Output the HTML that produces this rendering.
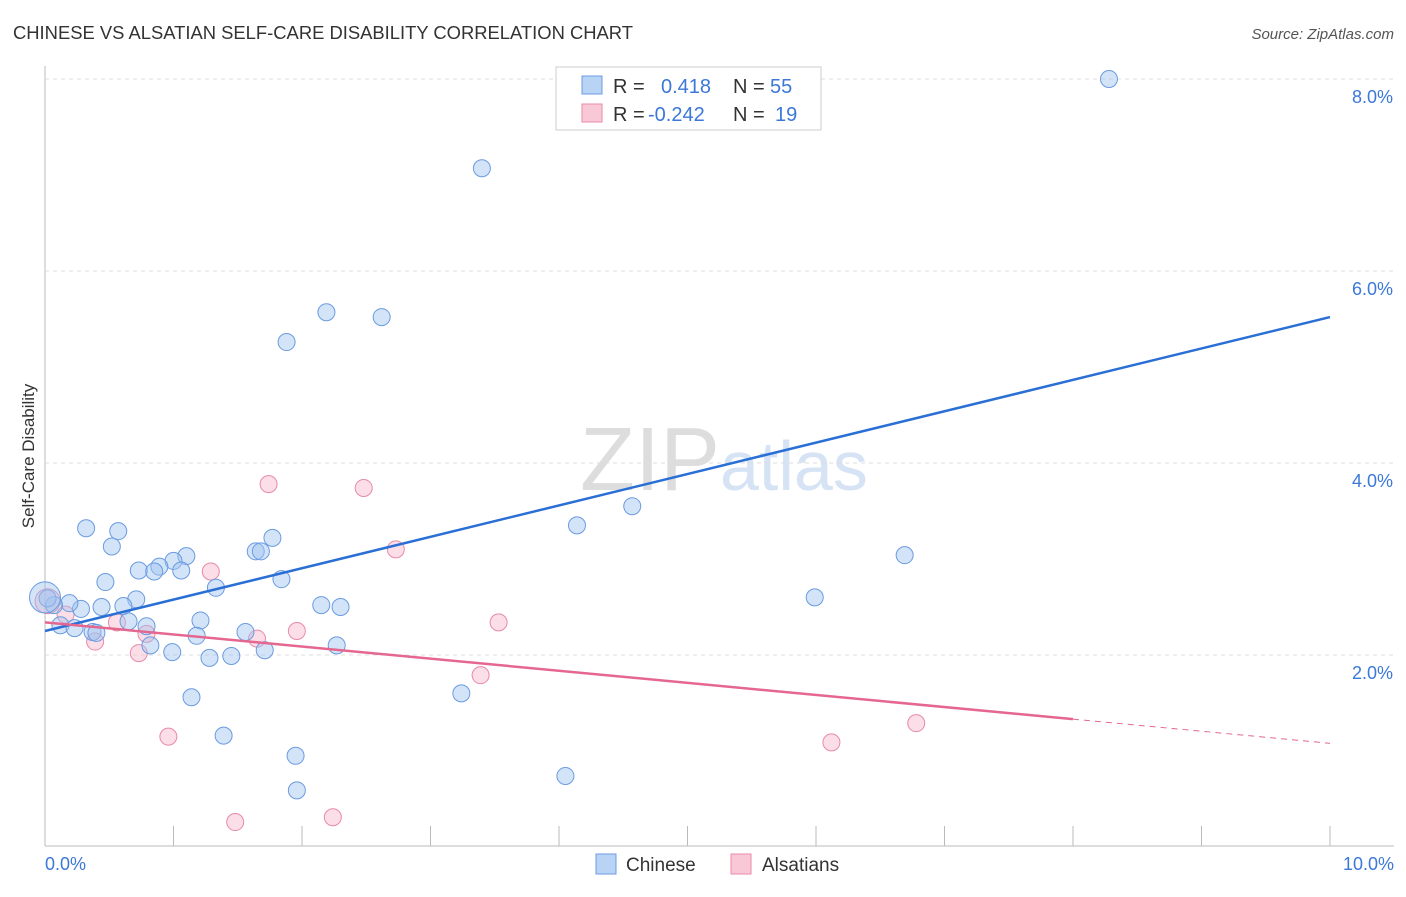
<!DOCTYPE html>
<html><head><meta charset="utf-8"><style>
body{margin:0;background:#fff;font-family:"Liberation Sans",sans-serif;}
svg text{font-family:"Liberation Sans",sans-serif;}
</style></head><body>
<svg id="chart" width="1406" height="892">
<text x="13" y="39" font-size="18.4" fill="#333">CHINESE VS ALSATIAN SELF-CARE DISABILITY CORRELATION CHART</text>
<text x="1394" y="39" font-size="15" fill="#555" text-anchor="end" font-style="italic">Source: ZipAtlas.com</text>
<text x="720" y="490" font-size="90" fill="#ddd" text-anchor="end" font-family="Liberation Serif">ZIP</text>
<text x="720" y="490" font-size="70" fill="#d5e3f5">atlas</text>
<g id="grid"></g><g id="marks"></g>
<text transform="translate(34,456) rotate(-90)" font-size="17" fill="#333" text-anchor="middle">Self-Care Disability</text>
<text x="45" y="870" font-size="18" fill="#3b78d8">0.0%</text>
<text x="1394" y="870" font-size="18" fill="#3b78d8" text-anchor="end">10.0%</text>
<g>
<rect x="556" y="67" width="265" height="63" fill="#fff" stroke="#ccc"/>
<rect x="582" y="76" width="20" height="18" fill="#b9d3f5" stroke="#6a9be0"/>
<rect x="582" y="104" width="20" height="18" fill="#f9c8d6" stroke="#e88aa6"/>
<text x="613" y="93" font-size="20" fill="#333">R =</text><text x="661" y="93" font-size="20" fill="#3b78d8">0.418</text>
<text x="733" y="93" font-size="20" fill="#333">N =</text><text x="770" y="93" font-size="20" fill="#3b78d8">55</text>
<text x="613" y="121" font-size="20" fill="#333">R =</text><text x="648" y="121" font-size="20" fill="#3b78d8">-0.242</text>
<text x="733" y="121" font-size="20" fill="#333">N =</text><text x="775" y="121" font-size="20" fill="#3b78d8">19</text>
</g>
<g>
<rect x="596" y="854" width="20" height="20" fill="#b9d3f5" stroke="#6a9be0"/>
<text x="626" y="871" font-size="19" fill="#333">Chinese</text>
<rect x="731" y="854" width="20" height="20" fill="#f9c8d6" stroke="#e88aa6"/>
<text x="762" y="871" font-size="19" fill="#333">Alsatians</text>
</g>
</svg>
<script>
const yTicks=[2,4,6,8];
const yTickLabels=["2.0%","4.0%","6.0%","8.0%"];
const xTicks=[0,1,2,3,4,5,6,7,8,9,10];
const chineseX=[8.28,3.4,2.19,2.62,1.88,4.57,4.14,6.69,5.99,3.24,4.05,1.95,1.96,1.39,1.14,0.32,0.57,0.52,1.77,1.64,1.68,1.1,1.0,0.89,0.73,0.85,1.06,0.47,1.33,1.84,0.71,0.61,0.44,0.28,0.19,0.07,0.02,2.15,2.3,1.21,0.65,0.12,0.23,0.79,0.37,0.4,1.18,1.56,0.82,0.99,1.28,1.45,1.71,2.27,0.0];
const chineseY=[8.0,7.07,5.57,5.52,5.26,3.55,3.35,3.04,2.6,1.6,0.74,0.95,0.59,1.16,1.56,3.32,3.29,3.13,3.22,3.08,3.08,3.03,2.98,2.92,2.88,2.87,2.88,2.76,2.7,2.79,2.58,2.51,2.5,2.48,2.54,2.52,2.59,2.52,2.5,2.36,2.35,2.31,2.28,2.3,2.24,2.23,2.2,2.24,2.1,2.03,1.97,1.99,2.05,2.1,2.6];
const chineseSize=[9,9,9,9,9,9,9,9,9,9,9,9,9,9,9,9,9,9,9,9,9,9,9,9,9,9,9,9,9,9,9,9,9,9,9,9,9,9,9,9,9,9,9,9,9,9,9,9,9,9,9,9,9,9,16];
const alsX=[1.74,2.48,2.73,1.29,3.53,1.96,0.56,0.79,1.65,0.39,0.73,3.39,6.78,0.96,6.12,1.48,2.24,0.02,0.16];
const alsY=[3.78,3.74,3.1,2.87,2.34,2.25,2.34,2.22,2.17,2.14,2.02,1.79,1.29,1.15,1.09,0.26,0.31,2.56,2.42];
const alsSize=[9,9,9,9,9,9,9,9,9,9,9,9,9,9,9,9,9,13,9];
const blueLine=[2.25,5.52];
const pinkLine=[2.34,1.08];
const X0=45,X1=1330,Y0=847,PY=96;
const sx=v=>X0+(X1-X0)*v/10, sy=v=>Y0-v*PY;
const NS="http://www.w3.org/2000/svg";
const grid=document.getElementById('grid'),marks=document.getElementById('marks');
function mk(tag,attrs,parent){const e=document.createElementNS(NS,tag);for(const k in attrs)e.setAttribute(k,attrs[k]);parent.appendChild(e);return e;}
let ax=mk('line',{x1:45,y1:66,x2:45,y2:846,stroke:'#bbb'},grid);


let bx=mk('line',{x1:45,y1:846,x2:1394,y2:846,stroke:'#bbb'},grid);


yTicks.forEach((t,i)=>{
 const g=mk('line',{x1:45,y1:sy(t),x2:1394,y2:sy(t),stroke:'#ddd','stroke-dasharray':'4,4'},grid);
 
 
 const l=mk('text',{x:1393,y:sy(t)+24,'font-size':18,fill:'#3b78d8','text-anchor':'end'},grid);
 l.textContent=yTickLabels[i];
 
 
});
xTicks.forEach(t=>{
 const k=mk('line',{x1:sx(t),y1:826,x2:sx(t),y2:846,stroke:'#bbb'},grid);
 
 
});
alsX.forEach((x,i)=>{
 const c=mk('circle',{cx:sx(x),cy:sy(alsY[i]),r:alsSize[i]-0.5,fill:'rgba(248,190,208,0.5)',stroke:'#e88aa6','stroke-width':1},marks);
 
 
});
chineseX.forEach((x,i)=>{
 const c=mk('circle',{cx:sx(x),cy:sy(chineseY[i]),r:chineseSize[i]-0.5,fill:'rgba(160,196,240,0.45)',stroke:'#6a9be0','stroke-width':1},marks);
 
 
});
let bl=mk('line',{x1:sx(0),y1:sy(blueLine[0]),x2:sx(10),y2:sy(blueLine[1]),stroke:'#2a6fd6','stroke-width':2.5},marks);


const pAt=x=>pinkLine[0]+(pinkLine[1]-pinkLine[0])*x/10;
let pl=mk('line',{x1:sx(0),y1:sy(pAt(0)),x2:sx(8),y2:sy(pAt(8)),stroke:'#e5678f','stroke-width':2.5},marks);


let pd=mk('line',{x1:sx(8),y1:sy(pAt(8)),x2:sx(10),y2:sy(pAt(10)),stroke:'#e5678f','stroke-width':1,'stroke-dasharray':'6,5'},marks);


</script>
</body></html>
